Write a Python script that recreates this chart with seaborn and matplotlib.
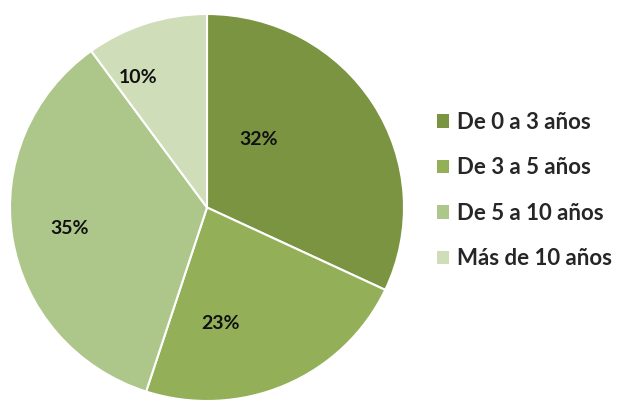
import matplotlib
matplotlib.use("Agg")
import matplotlib.pyplot as plt
from matplotlib.patches import Patch
import seaborn as sns

categories = ["De 0 a 3 años", "De 3 a 5 años", "De 5 a 10 años", "Más de 10 años"]
values = [32, 23, 35, 10]
hex_colors = ["#7A9442", "#93B058", "#ADC689", "#CFDDB8"]

sns.set_theme(style="white")
plt.rcParams["font.family"] = ["Lato", "DejaVu Sans"]
palette = sns.color_palette(hex_colors)

fig = plt.figure(figsize=(6.22, 4.04), dpi=100)
ax = fig.add_axes([10 / 622, 3 / 404, 394 / 622, 387 / 404])

wedges, texts, autotexts = ax.pie(
    values,
    colors=palette,
    startangle=90,
    counterclock=False,
    autopct=lambda p: f"{p:.0f}%",
    pctdistance=0.6,
    wedgeprops=dict(edgecolor="white", linewidth=1.5),
    textprops=dict(fontsize=14, fontweight="bold", color="#111111"),
)
ax.set_aspect("auto")
ax.set_xlim(-1, 1)
ax.set_ylim(-1, 1)

# Label placement (as in the reference, Excel-style)
label_pos = [(0.26, 0.35), (0.07, -0.60), (-0.70, -0.11), (-0.35, 0.67)]
for t, (x, y) in zip(autotexts, label_pos):
    t.set_position((x, y))
    t.set_ha("center")
    t.set_va("center")

handles = [Patch(facecolor=c, edgecolor="none") for c in palette]
fig.legend(
    handles, categories,
    loc="upper left",
    bbox_to_anchor=(417 / 622, 1 - 92 / 404),
    frameon=False,
    handlelength=0.55, handleheight=0.55, handletextpad=0.35,
    labelspacing=1.1,
    prop=dict(family=["Lato", "DejaVu Sans"], size=16, weight="bold"),
)

fig.savefig("out.png", dpi=100, facecolor="white")
